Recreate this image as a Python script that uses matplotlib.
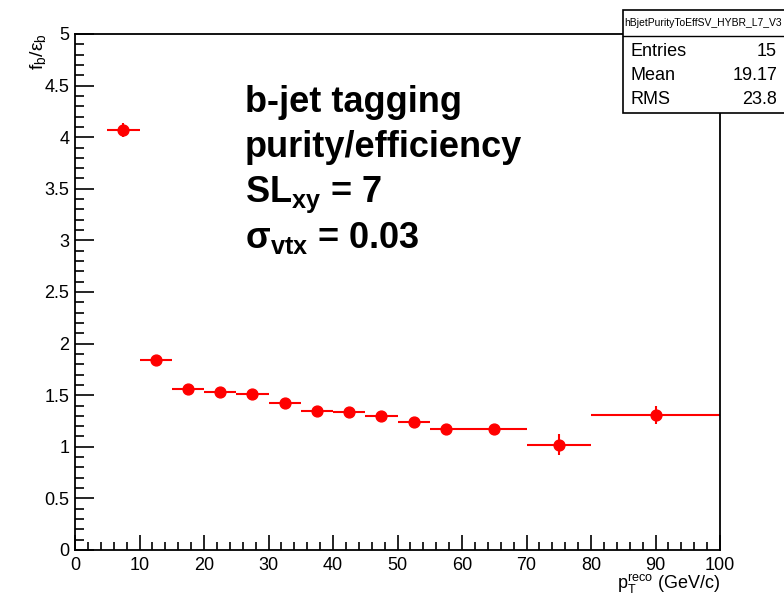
import matplotlib
matplotlib.use("Agg")
import matplotlib.pyplot as plt
from matplotlib.patches import Rectangle
from matplotlib.ticker import MultipleLocator
import numpy as np

# histogram contents: bin edges and value/error per bin
bin_lo = [5, 10, 15, 20, 25, 30, 35, 40, 45, 50, 55, 60, 70, 80]
bin_hi = [10, 15, 20, 25, 30, 35, 40, 45, 50, 55, 60, 70, 80, 100]
ratio = [4.07, 1.84, 1.56, 1.53, 1.51, 1.42, 1.35, 1.34, 1.30, 1.24, 1.17, 1.17, 1.02, 1.31]
ratio_err = [0.07, 0.03, 0.03, 0.03, 0.03, 0.03, 0.03, 0.03, 0.03, 0.03, 0.03, 0.03, 0.10, 0.09]

stat_title = "hBjetPurityToEffSV_HYBR_L7_V3"
stat_names = ["Entries", "Mean", "RMS"]
stat_vals = ["15", "19.17", "23.8"]

plt.rcParams['font.family'] = ['Liberation Sans', 'DejaVu Sans']
plt.rcParams['mathtext.fontset'] = 'custom'
plt.rcParams['mathtext.rm'] = 'Liberation Sans'
plt.rcParams['mathtext.it'] = 'Liberation Sans:italic'
plt.rcParams['mathtext.bf'] = 'Liberation Sans:bold'

W, H = 784, 597
fig = plt.figure(figsize=(W / 100, H / 100), dpi=100)
ax = fig.add_axes([75 / W, 1 - 550 / H, 645 / W, 516 / H])

lo = np.array(bin_lo, dtype=float)
hi = np.array(bin_hi, dtype=float)
centre = (lo + hi) / 2
half = (hi - lo) / 2

ax.errorbar(centre, ratio, xerr=half, yerr=ratio_err, fmt='o', color='red',
            ms=7.8, mec='red', ecolor='red', elinewidth=1.5, capsize=0)

ax.set_xlim(0, 100)
ax.set_ylim(0, 5)
ax.xaxis.set_major_locator(MultipleLocator(10))
ax.xaxis.set_minor_locator(MultipleLocator(2))
ax.yaxis.set_major_locator(MultipleLocator(0.5))
ax.yaxis.set_minor_locator(MultipleLocator(0.1))
ax.yaxis.set_major_formatter(matplotlib.ticker.FuncFormatter(lambda v, p: '%g' % v))

# ROOT-like ticks: inside, only on left and bottom
ax.tick_params(axis='both', which='both', direction='in', top=False, right=False,
               labelsize=13, width=1.2, colors='black')
ax.tick_params(axis='y', which='major', length=13.5, pad=4)
ax.tick_params(axis='y', which='minor', length=6.5)
ax.tick_params(axis='x', which='major', length=11, pad=5)
ax.tick_params(axis='x', which='minor', length=6)
for s in ax.spines.values():
    s.set_linewidth(1.3)

# axis titles
fig.text(720 / W, 1 - 589 / H, r'$\mathregular{p_{T}^{reco}}$ (GeV/c)', ha='right',
         va='baseline', fontsize=13)
fig.text(38 / W, 1 - 33 / H, r'$\mathregular{f_{b}/\varepsilon_{b}}$', rotation=90,
         ha='center', va='top', fontsize=14)

# annotation
lines = ['b-jet tagging', 'purity/efficiency', r'SL$_{\mathbf{xy}}$ = 7',
         r'σ$_{\mathbf{vtx}}$ = 0.03']
ys = [112, 157, 202, 248]
for t, y in zip(lines, ys):
    fig.text(245 / W, 1 - y / H, t, ha='left', va='baseline', fontsize=26,
             fontweight='bold')

# statistics box
box = Rectangle((623 / W, 1 - 113 / H), (W - 623 + 2) / W, 103 / H,
                transform=fig.transFigure, facecolor='white', edgecolor='black',
                linewidth=1.2, zorder=5)
fig.add_artist(box)
fig.add_artist(plt.Line2D([623 / W, 1], [1 - 36 / H, 1 - 36 / H],
                          transform=fig.transFigure, color='black', lw=1.0, zorder=6))
fig.text(703 / W, 1 - 23 / H, stat_title, ha='center', va='center', fontsize=7.5,
         zorder=7)
for i, (n, v) in enumerate(zip(stat_names, stat_vals)):
    y = 1 - (52 + 24 * i) / H
    fig.text(630 / W, y, n, ha='left', va='center', fontsize=13, zorder=7)
    fig.text(777 / W, y, v, ha='right', va='center', fontsize=13, zorder=7)

fig.savefig('out.png', dpi=100)
